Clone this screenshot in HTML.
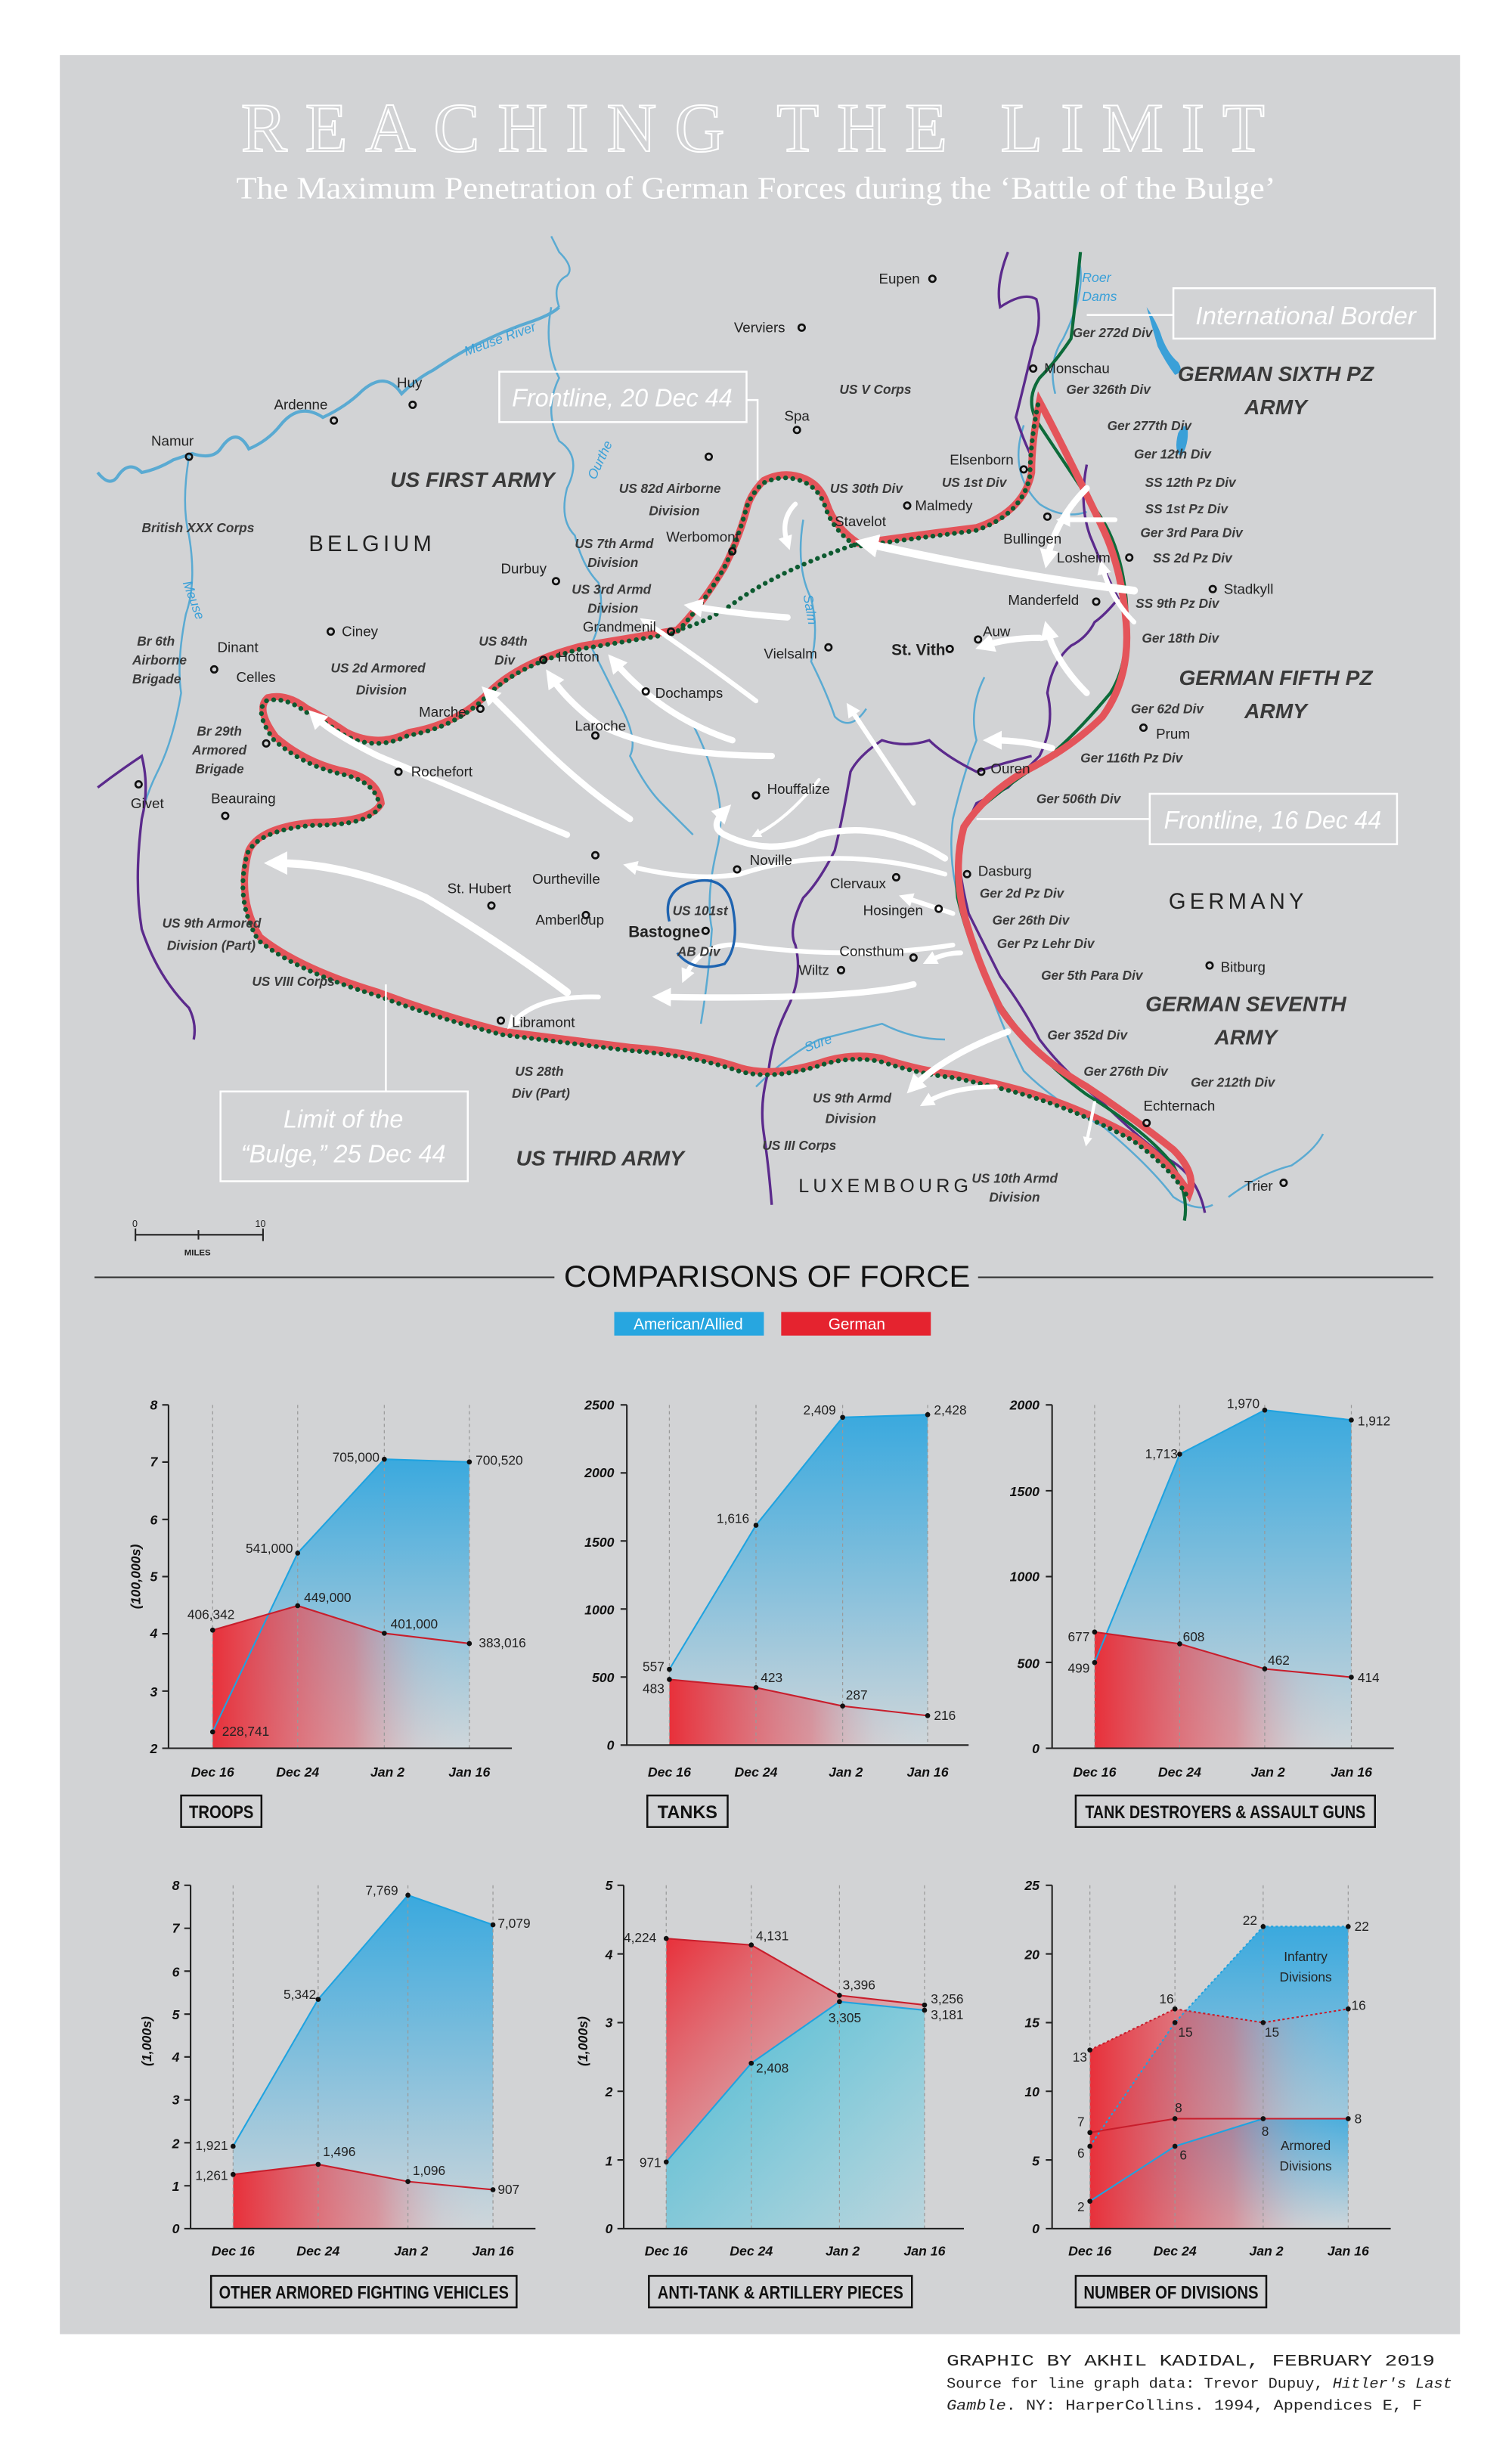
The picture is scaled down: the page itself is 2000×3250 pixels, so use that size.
<!DOCTYPE html>
<html><head><meta charset="utf-8"><style>
html,body{margin:0;padding:0;background:#fff;}
svg{display:block;}
.lb{font-family:"Liberation Sans",sans-serif;font-size:9px;fill:#222;}
.it{font-family:"Liberation Sans",sans-serif;font-size:8.3px;fill:#3a3a3a;font-style:italic;font-weight:bold;}
.army{font-family:"Liberation Sans",sans-serif;font-size:13.5px;fill:#3a3a3a;font-style:italic;font-weight:bold;}
.riv{fill:#3aa0d8;font-family:"Liberation Sans",sans-serif;font-size:8.5px;font-style:italic;}
.cty{fill:none;stroke:#111;stroke-width:1.3;}
.tk{font-family:"Liberation Sans",sans-serif;font-size:8.5px;font-style:italic;font-weight:bold;fill:#111;}
.vl{font-family:"Liberation Sans",sans-serif;font-size:8.3px;fill:#222;}
.ttl{font-family:"Liberation Sans",sans-serif;font-size:11.5px;font-weight:bold;fill:#111;}
</style></head><body>
<svg width="2000" height="3250" viewBox="0 0 960 1560" xmlns="http://www.w3.org/2000/svg">
<defs>
<linearGradient id="bg1" x1="0" y1="0" x2="0" y2="1"><stop offset="0" stop-color="#3aa9de"/><stop offset="1" stop-color="#cfd6da"/></linearGradient>
<linearGradient id="rg1" x1="0" y1="0" x2="1" y2="0"><stop offset="0" stop-color="#e8303a"/><stop offset="0.55" stop-color="#e06a75" stop-opacity="0.6"/><stop offset="0.8" stop-color="#d8a0a8" stop-opacity="0.15"/><stop offset="1" stop-color="#d2d3d5" stop-opacity="0"/></linearGradient>
<linearGradient id="bg5" x1="0" y1="0" x2="1" y2="1"><stop offset="0" stop-color="#3cc6e0"/><stop offset="1" stop-color="#b9d4dc"/></linearGradient>
<linearGradient id="rg5" x1="0" y1="0" x2="1" y2="1"><stop offset="0" stop-color="#e8303a"/><stop offset="0.5" stop-color="#e07880" stop-opacity="0.6"/><stop offset="1" stop-color="#d2d3d5" stop-opacity="0"/></linearGradient>
<marker id="ah" viewBox="0 0 10 10" refX="5" refY="5" markerWidth="3" markerHeight="3" orient="auto-start-reverse"><path d="M0 0L10 5L0 10z" fill="#fff"/></marker>
</defs>
<rect x="38" y="35" width="889" height="1447" fill="#d2d3d5"/>
<text x="478" y="96" text-anchor="middle" font-family="Liberation Serif,serif" font-size="44" textLength="650" lengthAdjust="spacing" fill="none" stroke="#fff" stroke-width="1">REACHING THE LIMIT</text>
<text x="480" y="126" text-anchor="middle" font-family="Liberation Serif,serif" font-size="20" textLength="660" lengthAdjust="spacingAndGlyphs" fill="#fff">The Maximum Penetration of German Forces during the ‘Battle of the Bulge’</text>

<g fill="none" stroke="#5aaad2" stroke-width="1.2">
<path d="M62,300 Q70,310 75,302 Q82,292 90,300 Q100,298 110,292 L122,288 Q135,292 140,285 Q150,270 158,285 Q170,280 178,270 Q190,255 205,265 Q220,258 230,248 Q245,235 255,250 Q265,240 275,235 Q290,225 300,220 Q320,210 335,205 Q350,200 355,195" stroke-width="2"/>
<path d="M355,195 Q350,180 360,175 Q365,170 355,160 L350,150"/>
<path d="M120,290 Q115,320 120,340 Q125,370 118,390 Q112,420 115,440 Q110,470 100,490 Q95,500 92,510"/>
<path d="M350,195 Q345,220 355,240 Q345,260 355,280 Q370,290 360,310 Q355,330 365,340 Q370,360 380,370 Q385,390 375,410 Q385,430 395,450 Q405,470 400,480 Q410,500 420,510 L440,530"/>
<path d="M440,460 Q450,480 455,500 Q460,520 455,540 Q448,570 452,590 Q450,620 445,650"/>
<path d="M510,330 Q505,360 515,380 Q520,400 515,420 Q525,440 530,455 Q540,465 550,450"/>
<path d="M650,270 Q640,300 660,320 Q675,330 690,325"/>
<path d="M685,165 Q690,185 675,215 Q665,230 670,250"/>
<path d="M605,520 Q600,560 620,600 Q630,640 650,680 Q670,700 700,715 Q730,740 745,760 Q760,770 770,765"/>
<path d="M480,690 Q500,670 520,660 Q540,655 560,650 Q580,660 600,660"/>
<path d="M780,760 Q800,745 820,740 Q835,730 840,720"/>
<path d="M625,430 Q615,450 620,470 Q612,490 605,520"/>
</g>
<path d="M728,195 Q735,205 738,215 Q742,225 748,230 Q752,236 746,238 Q740,230 735,220 Z" fill="#3aa0d8"/>
<path d="M748,275 Q752,268 754,272 Q755,282 750,290 Q745,287 748,275Z" fill="#3aa0d8"/>
<g fill="none" stroke="#5b2a8c" stroke-width="1.6">
<path d="M640,160 Q632,180 635,195 Q650,185 658,190 Q662,205 656,220 Q650,245 645,265 Q650,280 655,290"/>
<path d="M690,295 Q685,320 692,340 Q700,360 710,380 Q702,390 695,395 Q690,405 680,410 Q668,420 665,440 Q670,460 660,480 Q650,490 640,500 Q630,505 620,510 Q615,520 608,540 Q610,560 615,580 Q625,600 635,620 Q650,640 660,660 Q675,680 700,700 Q720,720 740,735 Q760,745 765,770"/>
<path d="M62,500 Q75,490 90,480 Q95,500 90,520 Q85,560 90,590 Q100,620 120,640 Q125,650 123,660"/>
<path d="M655,480 Q635,485 620,490 Q600,480 590,470 Q575,475 560,470 Q545,480 540,490 Q535,520 530,540 Q520,560 510,570 Q500,590 505,600 Q510,620 500,640 Q490,660 488,680 Q482,700 485,720 Q488,740 490,765"/>
</g>
<path d="M686,160 Q682,200 680,215 Q670,230 660,240 Q650,255 660,270 Q680,300 700,330 Q712,350 715,380 Q718,420 705,440 Q680,470 660,485 Q630,505 615,520 Q605,540 608,570 Q615,600 630,630 Q655,670 690,695 Q730,720 745,740 Q755,760 752,775" fill="none" stroke="#0d6b3a" stroke-width="2"/>
<path d="M660,255 Q655,280 655,300 Q650,325 620,335 Q580,340 545,345 Q530,335 525,320 Q520,305 505,302 Q495,300 485,305 Q478,312 475,320 Q470,340 460,360 Q445,385 430,400 Q400,405 370,410 Q330,420 310,440 Q290,460 260,465 Q240,475 220,465 Q205,455 195,450 Q182,440 170,443 Q162,450 175,468 Q195,485 220,490 Q240,495 242,510 Q236,522 200,522 Q165,525 158,540 Q150,570 165,595 Q190,615 240,630 Q280,645 320,655 Q360,660 400,665 Q440,668 470,678 Q490,684 520,675 Q540,668 560,672 Q585,680 605,682 Q620,685 640,690 Q680,700 720,722 Q745,740 755,758 Q760,745 745,730 Q720,710 690,690 Q655,670 635,640 Q620,610 612,580 Q605,550 612,525 Q625,505 650,490 Q680,475 700,455 Q718,430 715,395 Q712,360 700,335 Q688,310 678,290 Q668,270 660,255 Z" fill="none" stroke="#e4545a" stroke-width="4.5"/>
<path d="M660,255 Q655,280 655,300 Q650,325 620,335 Q580,340 545,345 Q530,335 525,320 Q520,305 505,302 Q495,300 485,305 Q478,312 475,320 Q470,340 460,360 Q445,385 430,400 Q400,405 370,410 Q330,420 310,440 Q290,460 260,465 Q240,475 220,465 Q205,455 195,450 Q182,440 170,443 Q162,450 175,468 Q195,485 220,490 Q240,495 242,510 Q236,522 200,522 Q165,525 158,540 Q150,570 165,595 Q190,615 240,630 Q280,645 320,655 Q360,660 400,665 Q440,668 470,678 Q490,684 520,675 Q540,668 560,672 Q585,680 605,682 Q620,685 640,690 Q680,700 720,722 Q745,740 755,758" fill="none" stroke="#0d5a30" stroke-width="3" stroke-dasharray="0.1 4.5" stroke-linecap="round" transform="translate(-1,2)"/>
<path d="M545,345 Q500,360 470,380 Q450,395 430,400" fill="none" stroke="#0d5a30" stroke-width="3" stroke-dasharray="0.1 4.5" stroke-linecap="round"/>
<g fill="none" stroke="#fff" stroke-linecap="round" marker-end="url(#ah)">
<path d="M720,375 Q640,365 550,345" stroke-width="5"/>
<path d="M690,310 Q670,330 665,355" stroke-width="4"/>
<path d="M708,330 Q690,330 675,330" stroke-width="3"/>
<path d="M500,392 Q470,390 440,385" stroke-width="4"/>
<path d="M660,405 Q640,405 625,410" stroke-width="4"/>
<path d="M690,440 Q670,420 665,400" stroke-width="4"/>
<path d="M720,395 Q705,380 700,360" stroke-width="3"/>
<path d="M480,445 Q440,415 410,395" stroke-width="3"/>
<path d="M465,470 Q420,455 390,420" stroke-width="4"/>
<path d="M490,480 Q420,480 380,460 Q360,445 350,430" stroke-width="4"/>
<path d="M400,520 Q370,500 340,470 Q320,450 310,440" stroke-width="4"/>
<path d="M360,530 Q300,505 240,480 Q210,465 200,455" stroke-width="4"/>
<path d="M580,510 Q560,480 540,450" stroke-width="3"/>
<path d="M668,475 Q650,470 630,470" stroke-width="4"/>
<path d="M520,495 Q500,520 480,530" stroke-width="2"/>
<path d="M600,545 Q560,520 520,530 Q490,545 460,530 Q450,525 460,515" stroke-width="4"/>
<path d="M600,555 Q530,535 470,555 Q440,560 400,550" stroke-width="3"/>
<path d="M605,580 Q590,575 575,570" stroke-width="3"/>
<path d="M605,600 Q540,610 470,600 Q445,598 435,620" stroke-width="3"/>
<path d="M610,605 Q600,605 590,610" stroke-width="3"/>
<path d="M580,625 Q540,635 420,633" stroke-width="4"/>
<path d="M360,630 Q320,600 270,570 Q220,548 175,548" stroke-width="5"/>
<path d="M380,633 Q340,632 325,650" stroke-width="3"/>
<path d="M640,655 Q600,670 580,690" stroke-width="4"/>
<path d="M632,690 Q605,690 588,700" stroke-width="3"/>
<path d="M695,700 Q692,715 690,725" stroke-width="2"/>
<path d="M505,320 Q495,330 500,345" stroke-width="3"/>
</g>
<path d="M425,585 Q420,565 440,560 Q460,555 465,575 Q470,600 460,612 Q440,618 430,605" fill="none" stroke="#1e63b0" stroke-width="1.6"/>
<g fill="none" stroke="#fff" stroke-width="1.2">
<rect x="317" y="236" width="157" height="32"/><path d="M474,254 H481 V305"/>
<rect x="745" y="183" width="166" height="32"/><path d="M745,200 H690"/>
<rect x="730" y="504" width="157" height="32"/><path d="M730,520 H620"/>
<rect x="140" y="693" width="157" height="57"/><path d="M245,693 V625"/>
</g>
<g font-family="Liberation Sans,sans-serif" font-style="italic" font-size="16" fill="#fff" text-anchor="middle">
<text x="395" y="258" textLength="140" lengthAdjust="spacingAndGlyphs">Frontline, 20 Dec 44</text>
<text x="829" y="206" textLength="140" lengthAdjust="spacingAndGlyphs">International Border</text>
<text x="808" y="526" textLength="138" lengthAdjust="spacingAndGlyphs">Frontline, 16 Dec 44</text>
<text x="218" y="716" textLength="76" lengthAdjust="spacingAndGlyphs">Limit of the</text>
<text x="218" y="738" textLength="130" lengthAdjust="spacingAndGlyphs">“Bulge,” 25 Dec 44</text>
</g>
<g class="cty">
<circle cx="592" cy="177" r="2"/><circle cx="509" cy="208" r="2"/><circle cx="262" cy="257" r="2"/><circle cx="212" cy="267" r="2"/><circle cx="120" cy="290" r="2"/><circle cx="506" cy="273" r="2"/><circle cx="450" cy="290" r="2"/><circle cx="656" cy="234" r="2"/><circle cx="650" cy="298" r="2"/><circle cx="576" cy="321" r="2"/><circle cx="665" cy="328" r="2"/><circle cx="717" cy="354" r="2"/><circle cx="465" cy="350" r="2"/><circle cx="353" cy="369" r="2"/><circle cx="696" cy="382" r="2"/><circle cx="770" cy="374" r="2"/><circle cx="210" cy="401" r="2"/><circle cx="136" cy="425" r="2"/><circle cx="345" cy="419" r="2"/><circle cx="426" cy="401" r="2"/><circle cx="526" cy="411" r="2"/><circle cx="603" cy="412" r="2"/><circle cx="621" cy="406" r="2"/><circle cx="410" cy="439" r="2"/><circle cx="305" cy="450" r="2"/><circle cx="378" cy="467" r="2"/><circle cx="726" cy="462" r="2"/><circle cx="253" cy="490" r="2"/><circle cx="169" cy="472" r="2"/><circle cx="88" cy="498" r="2"/><circle cx="143" cy="518" r="2"/><circle cx="623" cy="490" r="2"/><circle cx="480" cy="505" r="2"/><circle cx="378" cy="543" r="2"/><circle cx="468" cy="552" r="2"/><circle cx="569" cy="557" r="2"/><circle cx="614" cy="555" r="2"/><circle cx="312" cy="575" r="2"/><circle cx="372" cy="581" r="2"/><circle cx="596" cy="577" r="2"/><circle cx="448" cy="591" r="2"/><circle cx="580" cy="608" r="2"/><circle cx="534" cy="616" r="2"/><circle cx="768" cy="613" r="2"/><circle cx="318" cy="648" r="2"/><circle cx="728" cy="713" r="2"/><circle cx="815" cy="751" r="2"/>
</g>
<g class="lb">
<text x="558" y="180">Eupen</text><text x="466" y="211">Verviers</text><text x="252" y="246">Huy</text><text x="174" y="260">Ardenne</text><text x="96" y="283">Namur</text><text x="498" y="267">Spa</text><text x="663" y="237">Monschau</text><text x="603" y="295">Elsenborn</text><text x="581" y="324">Malmedy</text><text x="530" y="334">Stavelot</text><text x="637" y="345">Bullingen</text><text x="671" y="357">Losheim</text><text x="423" y="344">Werbomont</text><text x="318" y="364">Durbuy</text><text x="640" y="384">Manderfeld</text><text x="777" y="377">Stadkyll</text><text x="217" y="404">Ciney</text><text x="138" y="414">Dinant</text><text x="370" y="401">Grandmenil</text><text x="624" y="404">Auw</text><text x="354" y="420">Hotton</text><text x="485" y="418">Vielsalm</text><text x="150" y="433">Celles</text><text x="416" y="443">Dochamps</text><text x="266" y="455">Marche</text><text x="365" y="464">Laroche</text><text x="734" y="469">Prum</text><text x="261" y="493">Rochefort</text><text x="629" y="491">Ouren</text><text x="487" y="504">Houffalize</text><text x="134" y="510">Beauraing</text><text x="83" y="513">Givet</text><text x="476" y="549">Noville</text><text x="621" y="556">Dasburg</text><text x="527" y="564">Clervaux</text><text x="284" y="567">St. Hubert</text><text x="338" y="561">Ourtheville</text><text x="548" y="581">Hosingen</text><text x="340" y="587">Amberloup</text><text x="533" y="607">Consthum</text><text x="507" y="619">Wiltz</text><text x="775" y="617">Bitburg</text><text x="325" y="652">Libramont</text><text x="726" y="705">Echternach</text><text x="790" y="756">Trier</text>
<text x="566" y="416" font-weight="bold" font-size="10">St. Vith</text><text x="399" y="595" font-weight="bold" font-size="10">Bastogne</text>
</g>
<g font-family="Liberation Sans,sans-serif" font-size="14" fill="#222" letter-spacing="2.5">
<text x="196" y="350">BELGIUM</text><text x="742" y="577">GERMANY</text><text x="507" y="757" font-size="12">LUXEMBOURG</text>
</g>
<g class="army" text-anchor="middle">
<text x="300" y="309">US FIRST ARMY</text><text x="810" y="242">GERMAN SIXTH PZ</text><text x="810" y="263">ARMY</text><text x="810" y="435">GERMAN FIFTH PZ</text><text x="810" y="456">ARMY</text><text x="791" y="642">GERMAN SEVENTH</text><text x="791" y="663">ARMY</text><text x="381" y="740">US THIRD ARMY</text>
</g>
<g class="it">
<text x="681" y="214">Ger 272d Div</text><text x="677" y="250">Ger 326th Div</text><text x="533" y="250">US V Corps</text><text x="703" y="273">Ger 277th Div</text><text x="720" y="291">Ger 12th Div</text><text x="727" y="309">SS 12th Pz Div</text><text x="727" y="326">SS 1st Pz Div</text><text x="724" y="341">Ger 3rd Para Div</text><text x="732" y="357">SS 2d Pz Div</text><text x="721" y="386">SS 9th Pz Div</text><text x="725" y="408">Ger 18th Div</text><text x="718" y="453">Ger 62d Div</text><text x="686" y="484">Ger 116th Pz Div</text><text x="658" y="510">Ger 506th Div</text><text x="622" y="570">Ger 2d Pz Div</text><text x="630" y="587">Ger 26th Div</text><text x="633" y="602">Ger Pz Lehr Div</text><text x="661" y="622">Ger 5th Para Div</text><text x="665" y="660">Ger 352d Div</text><text x="688" y="683">Ger 276th Div</text><text x="756" y="690">Ger 212th Div</text>
<text x="90" y="338">British XXX Corps</text><text x="393" y="313">US 82d Airborne</text><text x="412" y="327">Division</text><text x="527" y="313">US 30th Div</text><text x="598" y="309">US 1st Div</text><text x="365" y="348">US 7th Armd</text><text x="373" y="360">Division</text><text x="363" y="377">US 3rd Armd</text><text x="373" y="389">Division</text><text x="304" y="410">US 84th</text><text x="314" y="422">Div</text><text x="210" y="427">US 2d Armored</text><text x="226" y="441">Division</text><text x="87" y="410">Br 6th</text><text x="84" y="422">Airborne</text><text x="84" y="434">Brigade</text><text x="125" y="467">Br 29th</text><text x="122" y="479">Armored</text><text x="124" y="491">Brigade</text><text x="103" y="589">US 9th Armored</text><text x="106" y="603">Division (Part)</text><text x="160" y="626">US VIII Corps</text><text x="427" y="581">US 101st</text><text x="430" y="607">AB Div</text><text x="327" y="683">US 28th</text><text x="325" y="697">Div (Part)</text><text x="516" y="700">US 9th Armd</text><text x="524" y="713">Division</text><text x="484" y="730">US III Corps</text><text x="617" y="751">US 10th Armd</text><text x="628" y="763">Division</text>
</g>
<g class="riv">
<text x="296" y="226" transform="rotate(-20 296 226)">Meuse River</text><text x="378" y="305" transform="rotate(-65 378 305)">Ourthe</text><text x="116" y="370" transform="rotate(70 116 370)">Meuse</text><text x="510" y="378" transform="rotate(80 510 378)">Salm</text><text x="512" y="668" transform="rotate(-20 512 668)">Sure</text><text x="687" y="179">Roer</text><text x="687" y="191">Dams</text>
</g>
<path d="M86,784 H167 M86,780 V788 M126,781 V787 M167,780 V788" stroke="#222" stroke-width="1" fill="none"/>
<text x="84" y="779" font-family="Liberation Sans,sans-serif" font-size="6" fill="#222">0</text><text x="162" y="779" font-family="Liberation Sans,sans-serif" font-size="6" fill="#222">10</text><text x="117" y="797" font-family="Liberation Sans,sans-serif" font-size="5.5" font-weight="bold" fill="#222">MILES</text>

<path d="M60,811 H352 M621,811 H910" stroke="#333" stroke-width="1"/>
<text x="487" y="817" text-anchor="middle" font-family="Liberation Sans,sans-serif" font-size="19" fill="#111" textLength="258" lengthAdjust="spacingAndGlyphs">COMPARISONS OF FORCE</text>
<rect x="390" y="833" width="95" height="15" fill="#27a6e0"/><text x="437" y="844" text-anchor="middle" font-family="Liberation Sans,sans-serif" font-size="10" fill="#fff">American/Allied</text>
<rect x="496" y="833" width="95" height="15" fill="#e5232f"/><text x="544" y="844" text-anchor="middle" font-family="Liberation Sans,sans-serif" font-size="10" fill="#fff">German</text>

<!-- Chart 1 -->
<g>
<path d="M135,1099.6 L189,986.1 L244,926.5 L298,928.2 L298,1110 L135,1110Z" fill="url(#bg1)"/>
<path d="M135,1035 L189,1019.5 L244,1037 L298,1043.5 L298,1110 L135,1110Z" fill="url(#rg1)"/>
<g stroke="#999" stroke-dasharray="2 2" stroke-width="0.6"><path d="M135,892V1110M189,892V1110M244,892V1110M298,892V1110"/></g>
<path d="M135,1099.6 L189,986.1 L244,926.5 L298,928.2" fill="none" stroke="#1fa3e0" stroke-width="1"/>
<path d="M135,1035 L189,1019.5 L244,1037 L298,1043.5" fill="none" stroke="#c81e2c" stroke-width="1"/>
<path d="M107,892V1110H325" fill="none" stroke="#222" stroke-width="1"/>
<g stroke="#222"><path d="M103,892H107M103,928.3H107M103,964.7H107M103,1001H107M103,1037.3H107M103,1073.7H107M103,1110H107"/></g>
<g class="tk" text-anchor="end"><text x="100" y="895">8</text><text x="100" y="931">7</text><text x="100" y="968">6</text><text x="100" y="1004">5</text><text x="100" y="1040">4</text><text x="100" y="1077">3</text><text x="100" y="1113">2</text></g>
<text class="tk" transform="translate(89,1001) rotate(-90)" text-anchor="middle">(100,000s)</text>
<g fill="#111"><circle cx="135" cy="1099.6" r="1.6"/><circle cx="189" cy="986.1" r="1.6"/><circle cx="244" cy="926.5" r="1.6"/><circle cx="298" cy="928.2" r="1.6"/><circle cx="135" cy="1035" r="1.6"/><circle cx="189" cy="1019.5" r="1.6"/><circle cx="244" cy="1037" r="1.6"/><circle cx="298" cy="1043.5" r="1.6"/></g>
<g class="vl"><text x="141" y="1102">228,741</text><text x="156" y="986">541,000</text><text x="211" y="928">705,000</text><text x="302" y="930">700,520</text><text x="119" y="1028">406,342</text><text x="193" y="1017">449,000</text><text x="248" y="1034">401,000</text><text x="304" y="1046">383,016</text></g>
<g class="tk" text-anchor="middle"><text x="135" y="1128">Dec 16</text><text x="189" y="1128">Dec 24</text><text x="246" y="1128">Jan 2</text><text x="298" y="1128">Jan 16</text></g>
<rect x="115" y="1140" width="51" height="20" fill="none" stroke="#111" stroke-width="1.2"/><text class="ttl" x="140.5" y="1154.5" text-anchor="middle" textLength="41" lengthAdjust="spacingAndGlyphs">TROOPS</text>
</g>

<!-- Chart 2 -->
<g>
<path d="M425,1059.9 L480,968.4 L535,899.9 L589,898.2 L589,1108 L425,1108Z" fill="url(#bg1)"/>
<path d="M425,1066.3 L480,1071.5 L535,1083.2 L589,1089.3 L589,1108 L425,1108Z" fill="url(#rg1)"/>
<g stroke="#999" stroke-dasharray="2 2" stroke-width="0.6"><path d="M425,892V1108M480,892V1108M535,892V1108M589,892V1108"/></g>
<path d="M425,1059.9 L480,968.4 L535,899.9 L589,898.2" fill="none" stroke="#1fa3e0" stroke-width="1"/>
<path d="M425,1066.3 L480,1071.5 L535,1083.2 L589,1089.3" fill="none" stroke="#c81e2c" stroke-width="1"/>
<path d="M398,892V1108H615" fill="none" stroke="#222" stroke-width="1"/>
<g stroke="#222"><path d="M394,892H398M394,935.2H398M394,978.4H398M394,1021.6H398M394,1064.8H398M394,1108H398"/></g>
<g class="tk" text-anchor="end"><text x="390" y="895">2500</text><text x="390" y="938">2000</text><text x="390" y="982">1500</text><text x="390" y="1025">1000</text><text x="390" y="1068">500</text><text x="390" y="1111">0</text></g>
<g fill="#111"><circle cx="425" cy="1059.9" r="1.6"/><circle cx="480" cy="968.4" r="1.6"/><circle cx="535" cy="899.9" r="1.6"/><circle cx="589" cy="898.2" r="1.6"/><circle cx="425" cy="1066.3" r="1.6"/><circle cx="480" cy="1071.5" r="1.6"/><circle cx="535" cy="1083.2" r="1.6"/><circle cx="589" cy="1089.3" r="1.6"/></g>
<g class="vl"><text x="408" y="1061">557</text><text x="408" y="1075">483</text><text x="455" y="967">1,616</text><text x="510" y="898">2,409</text><text x="593" y="898">2,428</text><text x="483" y="1068">423</text><text x="537" y="1079">287</text><text x="593" y="1092">216</text></g>
<g class="tk" text-anchor="middle"><text x="425" y="1128">Dec 16</text><text x="480" y="1128">Dec 24</text><text x="537" y="1128">Jan 2</text><text x="589" y="1128">Jan 16</text></g>
<rect x="411" y="1140" width="51" height="20" fill="none" stroke="#111" stroke-width="1.2"/><text class="ttl" x="436.5" y="1154.5" text-anchor="middle" textLength="38" lengthAdjust="spacingAndGlyphs">TANKS</text>
</g>

<!-- Chart 3 -->
<g>
<path d="M695,1055.6 L749,923.3 L803,895.3 L858,901.6 L858,1110 L695,1110Z" fill="url(#bg1)"/>
<path d="M695,1036.2 L749,1043.7 L803,1059.6 L858,1064.9 L858,1110 L695,1110Z" fill="url(#rg1)"/>
<g stroke="#999" stroke-dasharray="2 2" stroke-width="0.6"><path d="M695,892V1110M749,892V1110M803,892V1110M858,892V1110"/></g>
<path d="M695,1055.6 L749,923.3 L803,895.3 L858,901.6" fill="none" stroke="#1fa3e0" stroke-width="1"/>
<path d="M695,1036.2 L749,1043.7 L803,1059.6 L858,1064.9" fill="none" stroke="#c81e2c" stroke-width="1"/>
<path d="M668,892V1110H885" fill="none" stroke="#222" stroke-width="1"/>
<g stroke="#222"><path d="M664,892H668M664,946.5H668M664,1001H668M664,1055.5H668M664,1110H668"/></g>
<g class="tk" text-anchor="end"><text x="660" y="895">2000</text><text x="660" y="950">1500</text><text x="660" y="1004">1000</text><text x="660" y="1059">500</text><text x="660" y="1113">0</text></g>
<g fill="#111"><circle cx="695" cy="1055.6" r="1.6"/><circle cx="749" cy="923.3" r="1.6"/><circle cx="803" cy="895.3" r="1.6"/><circle cx="858" cy="901.6" r="1.6"/><circle cx="695" cy="1036.2" r="1.6"/><circle cx="749" cy="1043.7" r="1.6"/><circle cx="803" cy="1059.6" r="1.6"/><circle cx="858" cy="1064.9" r="1.6"/></g>
<g class="vl"><text x="678" y="1062">499</text><text x="678" y="1042">677</text><text x="727" y="926">1,713</text><text x="779" y="894">1,970</text><text x="862" y="905">1,912</text><text x="751" y="1042">608</text><text x="805" y="1057">462</text><text x="862" y="1068">414</text></g>
<g class="tk" text-anchor="middle"><text x="695" y="1128">Dec 16</text><text x="749" y="1128">Dec 24</text><text x="805" y="1128">Jan 2</text><text x="858" y="1128">Jan 16</text></g>
<rect x="683" y="1140" width="190" height="20" fill="none" stroke="#111" stroke-width="1.2"/><text class="ttl" x="778" y="1154.5" text-anchor="middle" textLength="178" lengthAdjust="spacingAndGlyphs">TANK DESTROYERS &amp; ASSAULT GUNS</text>
</g>

<!-- Chart 4 -->
<g>
<path d="M148,1362.7 L202,1269.4 L259,1203.3 L313,1222.1 L313,1415 L148,1415Z" fill="url(#bg1)"/>
<path d="M148,1380.6 L202,1374.2 L259,1385.1 L313,1390.3 L313,1415 L148,1415Z" fill="url(#rg1)"/>
<g stroke="#999" stroke-dasharray="2 2" stroke-width="0.6"><path d="M148,1197V1415M202,1197V1415M259,1197V1415M313,1197V1415"/></g>
<path d="M148,1362.7 L202,1269.4 L259,1203.3 L313,1222.1" fill="none" stroke="#1fa3e0" stroke-width="1"/>
<path d="M148,1380.6 L202,1374.2 L259,1385.1 L313,1390.3" fill="none" stroke="#c81e2c" stroke-width="1"/>
<path d="M121,1197V1415H340" fill="none" stroke="#222" stroke-width="1"/>
<g stroke="#222"><path d="M117,1197H121M117,1224.3H121M117,1251.5H121M117,1278.8H121M117,1306H121M117,1333.3H121M117,1360.5H121M117,1387.8H121M117,1415H121"/></g>
<g class="tk" text-anchor="end"><text x="114" y="1200">8</text><text x="114" y="1227">7</text><text x="114" y="1255">6</text><text x="114" y="1282">5</text><text x="114" y="1309">4</text><text x="114" y="1336">3</text><text x="114" y="1364">2</text><text x="114" y="1391">1</text><text x="114" y="1418">0</text></g>
<text class="tk" transform="translate(96,1296) rotate(-90)" text-anchor="middle">(1,000s)</text>
<g fill="#111"><circle cx="148" cy="1362.7" r="1.6"/><circle cx="202" cy="1269.4" r="1.6"/><circle cx="259" cy="1203.3" r="1.6"/><circle cx="313" cy="1222.1" r="1.6"/><circle cx="148" cy="1380.6" r="1.6"/><circle cx="202" cy="1374.2" r="1.6"/><circle cx="259" cy="1385.1" r="1.6"/><circle cx="313" cy="1390.3" r="1.6"/></g>
<g class="vl"><text x="124" y="1365">1,921</text><text x="124" y="1384">1,261</text><text x="180" y="1269">5,342</text><text x="232" y="1203">7,769</text><text x="316" y="1224">7,079</text><text x="205" y="1369">1,496</text><text x="262" y="1381">1,096</text><text x="316" y="1393">907</text></g>
<g class="tk" text-anchor="middle"><text x="148" y="1432">Dec 16</text><text x="202" y="1432">Dec 24</text><text x="261" y="1432">Jan 2</text><text x="313" y="1432">Jan 16</text></g>
<rect x="134" y="1445" width="194" height="20" fill="none" stroke="#111" stroke-width="1.2"/><text class="ttl" x="231" y="1459.5" text-anchor="middle" textLength="184" lengthAdjust="spacingAndGlyphs">OTHER ARMORED FIGHTING VEHICLES</text>
</g>

<!-- Chart 5 -->
<g>
<path d="M423,1230.8 L477,1234.9 L533,1266.9 L587,1273 L587,1415 L423,1415Z" fill="url(#rg5)"/>
<path d="M423,1372.7 L477,1310 L533,1270.9 L587,1276.3 L587,1415 L423,1415Z" fill="url(#bg5)" opacity="0.9"/>
<g stroke="#999" stroke-dasharray="2 2" stroke-width="0.6"><path d="M423,1197V1415M477,1197V1415M533,1197V1415M587,1197V1415"/></g>
<path d="M423,1372.7 L477,1310 L533,1270.9 L587,1276.3" fill="none" stroke="#1fa3e0" stroke-width="1"/>
<path d="M423,1230.8 L477,1234.9 L533,1266.9 L587,1273" fill="none" stroke="#c81e2c" stroke-width="1"/>
<path d="M396,1197V1415H612" fill="none" stroke="#222" stroke-width="1"/>
<g stroke="#222"><path d="M392,1197H396M392,1240.6H396M392,1284.2H396M392,1327.8H396M392,1371.4H396M392,1415H396"/></g>
<g class="tk" text-anchor="end"><text x="389" y="1200">5</text><text x="389" y="1244">4</text><text x="389" y="1287">3</text><text x="389" y="1331">2</text><text x="389" y="1375">1</text><text x="389" y="1418">0</text></g>
<text class="tk" transform="translate(373,1296) rotate(-90)" text-anchor="middle">(1,000s)</text>
<g fill="#111"><circle cx="423" cy="1372.7" r="1.6"/><circle cx="477" cy="1310" r="1.6"/><circle cx="533" cy="1270.9" r="1.6"/><circle cx="587" cy="1276.3" r="1.6"/><circle cx="423" cy="1230.8" r="1.6"/><circle cx="477" cy="1234.9" r="1.6"/><circle cx="533" cy="1266.9" r="1.6"/><circle cx="587" cy="1273" r="1.6"/></g>
<g class="vl"><text x="406" y="1376">971</text><text x="480" y="1316">2,408</text><text x="526" y="1284">3,305</text><text x="591" y="1282">3,181</text><text x="396" y="1233">4,224</text><text x="480" y="1232">4,131</text><text x="535" y="1263">3,396</text><text x="591" y="1272">3,256</text></g>
<g class="tk" text-anchor="middle"><text x="423" y="1432">Dec 16</text><text x="477" y="1432">Dec 24</text><text x="535" y="1432">Jan 2</text><text x="587" y="1432">Jan 16</text></g>
<rect x="412" y="1445" width="167" height="20" fill="none" stroke="#111" stroke-width="1.2"/><text class="ttl" x="495.5" y="1459.5" text-anchor="middle" textLength="156" lengthAdjust="spacingAndGlyphs">ANTI-TANK &amp; ARTILLERY PIECES</text>
</g>

<!-- Chart 6 -->
<g>
<path d="M692,1362.7 L746,1284.2 L802,1223.2 L856,1223.2 L856,1345.2 L802,1345.2 L746,1362.7 L692,1397.6Z" fill="url(#bg1)"/>
<path d="M692,1301.6 L746,1275.5 L802,1284.2 L856,1275.5 L856,1345.2 L802,1345.2 L746,1345.2 L692,1354Z" fill="url(#rg1)"/>
<path d="M692,1397.6 L746,1362.7 L802,1345.2 L856,1345.2 L856,1415 L692,1415Z" fill="url(#bg1)" opacity="0.9"/>
<path d="M692,1354 L746,1345.2 L802,1345.2 L856,1345.2 L856,1415 L692,1415Z" fill="url(#rg1)"/>
<g stroke="#999" stroke-dasharray="2 2" stroke-width="0.6"><path d="M692,1197V1415M746,1197V1415M802,1197V1415M856,1197V1415"/></g>
<path d="M692,1362.7 L746,1284.2 L802,1223.2 L856,1223.2" fill="none" stroke="#1fa3e0" stroke-width="1" stroke-dasharray="1.5 1.5"/>
<path d="M692,1301.6 L746,1275.5 L802,1284.2 L856,1275.5" fill="none" stroke="#c81e2c" stroke-width="1" stroke-dasharray="1.5 1.5"/>
<path d="M692,1397.6 L746,1362.7 L802,1345.2 L856,1345.2" fill="none" stroke="#1fa3e0" stroke-width="1"/>
<path d="M692,1354 L746,1345.2 L802,1345.2 L856,1345.2" fill="none" stroke="#c81e2c" stroke-width="1"/>
<path d="M668,1197V1415H883" fill="none" stroke="#222" stroke-width="1"/>
<g stroke="#222"><path d="M664,1197H668M664,1240.6H668M664,1284.2H668M664,1327.8H668M664,1371.4H668M664,1415H668"/></g>
<g class="tk" text-anchor="end"><text x="660" y="1200">25</text><text x="660" y="1244">20</text><text x="660" y="1287">15</text><text x="660" y="1331">10</text><text x="660" y="1375">5</text><text x="660" y="1418">0</text></g>
<g fill="#111"><circle cx="692" cy="1362.7" r="1.6"/><circle cx="746" cy="1284.2" r="1.6"/><circle cx="802" cy="1223.2" r="1.6"/><circle cx="856" cy="1223.2" r="1.6"/><circle cx="692" cy="1301.6" r="1.6"/><circle cx="746" cy="1275.5" r="1.6"/><circle cx="802" cy="1284.2" r="1.6"/><circle cx="856" cy="1275.5" r="1.6"/><circle cx="692" cy="1397.6" r="1.6"/><circle cx="746" cy="1362.7" r="1.6"/><circle cx="802" cy="1345.2" r="1.6"/><circle cx="856" cy="1345.2" r="1.6"/><circle cx="692" cy="1354" r="1.6"/><circle cx="746" cy="1345.2" r="1.6"/></g>
<g class="vl"><text x="681" y="1309">13</text><text x="736" y="1272">16</text><text x="748" y="1293">15</text><text x="789" y="1222">22</text><text x="860" y="1226">22</text><text x="803" y="1293">15</text><text x="858" y="1276">16</text><text x="684" y="1350">7</text><text x="684" y="1370">6</text><text x="684" y="1404">2</text><text x="746" y="1341">8</text><text x="749" y="1371">6</text><text x="801" y="1356">8</text><text x="860" y="1348">8</text></g>
<g class="vl" text-anchor="middle"><text x="829" y="1245">Infantry</text><text x="829" y="1258">Divisions</text><text x="829" y="1365">Armored</text><text x="829" y="1378">Divisions</text></g>
<g class="tk" text-anchor="middle"><text x="692" y="1432">Dec 16</text><text x="746" y="1432">Dec 24</text><text x="804" y="1432">Jan 2</text><text x="856" y="1432">Jan 16</text></g>
<rect x="683" y="1445" width="121" height="20" fill="none" stroke="#111" stroke-width="1.2"/><text class="ttl" x="743.5" y="1459.5" text-anchor="middle" textLength="111" lengthAdjust="spacingAndGlyphs">NUMBER OF DIVISIONS</text>
</g>

<g font-family="Liberation Mono,monospace" font-size="10" fill="#222">
<text x="601" y="1502" textLength="310" lengthAdjust="spacingAndGlyphs">GRAPHIC BY AKHIL KADIDAL, FEBRUARY 2019</text>
<text x="601" y="1516" font-size="9.5" textLength="321" lengthAdjust="spacingAndGlyphs">Source for line graph data: Trevor Dupuy, <tspan font-style="italic">Hitler's Last</tspan></text>
<text x="601" y="1530" font-size="9.5" textLength="302" lengthAdjust="spacingAndGlyphs"><tspan font-style="italic">Gamble</tspan>. NY: HarperCollins. 1994, Appendices E, F</text>
</g>
</svg>
</body></html>
